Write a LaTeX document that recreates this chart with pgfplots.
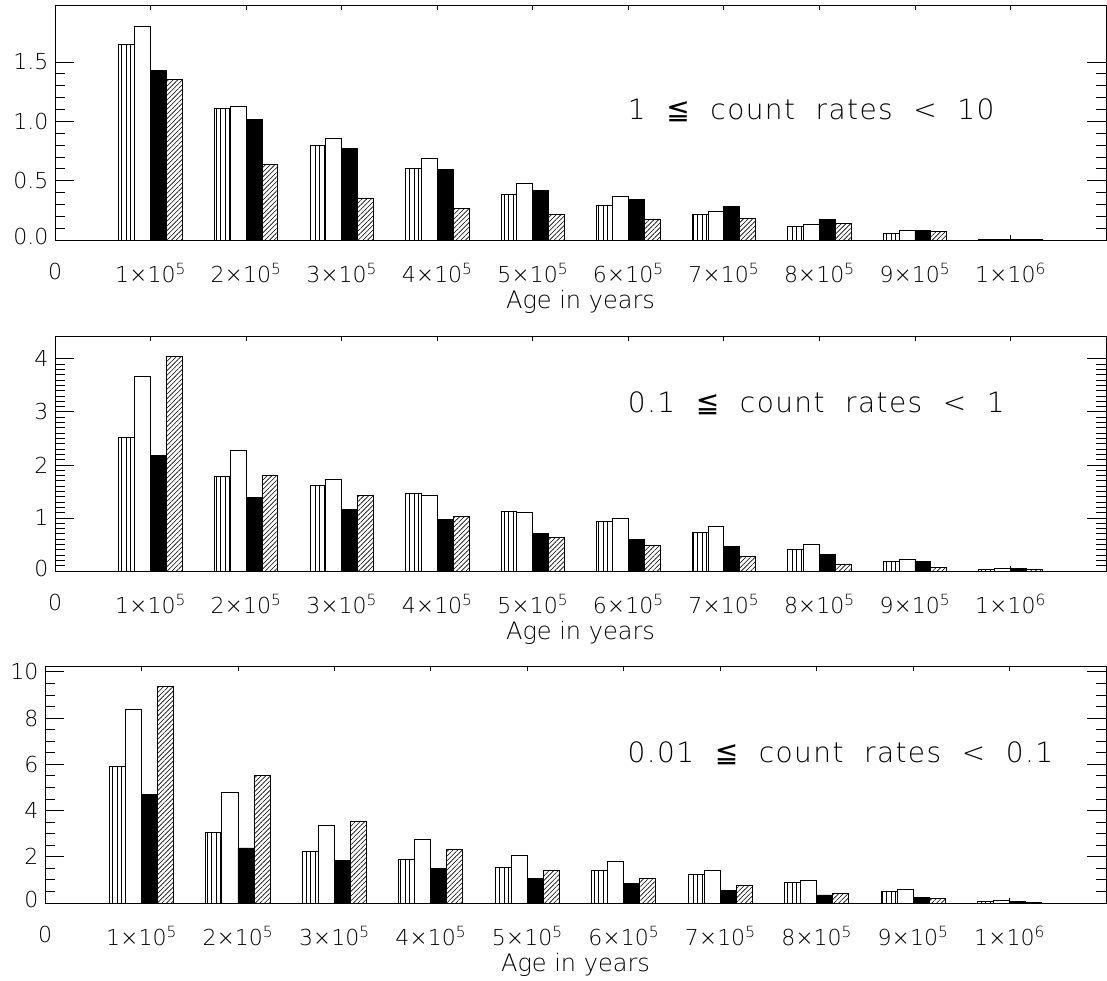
\documentclass[border=0pt]{standalone}
\usepackage{pgfplots}
\pgfplotsset{compat=1.18}
\usepackage{pgfplotstable}
\usetikzlibrary{patterns.meta}
\usepackage{fontspec}
\setmainfont{DejaVu Sans ExtraLight}
\newfontfamily\symfont{DejaVu Sans}
\newfontfamily\widefont[LetterSpace=5]{DejaVu Sans ExtraLight}

\pgfplotstableread{
x s w b h
1 1.65 1.80 1.425 1.355
2 1.11 1.125 1.015 0.64
3 0.80 0.86 0.775 0.354
4 0.60 0.685 0.597 0.264
5 0.38 0.478 0.416 0.216
6 0.295 0.365 0.34 0.177
7 0.215 0.24 0.284 0.183
8 0.115 0.132 0.174 0.14
9 0.053 0.081 0.079 0.073
10 0.008 0.008 0.006 0.005
}\toptab

\pgfplotstableread{
x s w b h
1 2.51 3.67 2.17 4.04
2 1.78 2.28 1.39 1.80
3 1.62 1.72 1.16 1.42
4 1.47 1.43 0.98 1.03
5 1.13 1.11 0.71 0.64
6 0.93 1.00 0.60 0.48
7 0.72 0.84 0.47 0.27
8 0.41 0.50 0.32 0.13
9 0.18 0.22 0.18 0.07
10 0.03 0.04 0.04 0.03
}\midtab

\pgfplotstableread{
x s w b h
1 5.89 8.36 4.69 9.36
2 3.05 4.77 2.38 5.52
3 2.24 3.35 1.86 3.55
4 1.89 2.74 1.50 2.32
5 1.53 2.08 1.05 1.43
6 1.40 1.79 0.84 1.08
7 1.23 1.40 0.53 0.78
8 0.90 0.97 0.35 0.43
9 0.49 0.58 0.23 0.20
10 0.06 0.10 0.06 0.02
}\bottab

\tikzset{ptext/.style={anchor=west, inner sep=0pt, font=\widefont\fontsize{28}{32}\selectfont}}

\pgfplotsset{
  panel/.style={
    scale only axis,
    xmin=0, xmax=11, ymin=0,
    axis line style={line width=0.8pt},
    xtick={0,...,10},
    xticklabels={0, 1×10\textsuperscript{5}, 2×10\textsuperscript{5}, 3×10\textsuperscript{5}, 4×10\textsuperscript{5}, 5×10\textsuperscript{5}, 6×10\textsuperscript{5}, 7×10\textsuperscript{5}, 8×10\textsuperscript{5}, 9×10\textsuperscript{5}, 1×10\textsuperscript{6}},
    tick align=inside,
    xtick pos=both, ytick pos=both,
    xticklabel pos=lower, yticklabel pos=left,
    major tick length=19pt, minor tick length=10pt,
    x tick style={/pgfplots/major tick length=5pt, line width=0.8pt, black},
    y tick style={line width=0.8pt, black},
    xticklabel style={font=\fontsize{22}{26}\selectfont, anchor=north, yshift=-20pt},
    yticklabel style={font=\fontsize{22}{26}\selectfont, anchor=east, xshift=-3pt},
    xlabel={Age in years},
    xlabel style={font=\fontsize{24}{28}\selectfont, at={(axis description cs:0.5,0)}, anchor=center, yshift=-62pt},
  },
  sbar/.style={ybar, bar width=0.166, bar shift=-0.249, draw=black, line width=0.8pt,
    pattern={Lines[angle=90,distance=4.5pt,line width=0.7pt]}},
  wbar/.style={ybar, bar width=0.166, bar shift=-0.083, draw=black, line width=0.8pt, fill=white},
  bbar/.style={ybar, bar width=0.166, bar shift=0.083, draw=black, line width=0.8pt, fill=black},
  hbar/.style={ybar, bar width=0.166, bar shift=0.249, draw=black, line width=0.8pt,
    pattern={Lines[angle=45,distance=3.3pt,line width=0.6pt]}},
}

\begin{document}
\begin{tikzpicture}
\useasboundingbox (0pt,0pt) rectangle (1107pt,-981pt);

\begin{axis}[panel, at={(55pt,-240pt)}, anchor=south west, width=1051pt, height=235pt,
  ymax=1.98, ytick={0,0.5,1,1.5}, minor y tick num=4,
  yticklabels={\raisebox{8pt}{0.0},0.5,1.0,1.5}]
\addplot[sbar] table[x=x,y=s]{\toptab};
\addplot[wbar] table[x=x,y=w]{\toptab};
\addplot[bbar] table[x=x,y=b]{\toptab};
\addplot[hbar] table[x=x,y=h]{\toptab};
\node[ptext] at (rel axis cs:0.545,0.553) {1\ \ {\symfont ≦}\ \ count\ \ rates\ \ <\ \ 10};
\end{axis}

\begin{axis}[panel, at={(55pt,-571pt)}, anchor=south west, width=1051pt, height=235pt,
  ymax=4.43, ytick={0,1,2,3,4}, minor y tick num=9,
  yticklabels={\raisebox{6pt}{0},1,2,3,4}]
\addplot[sbar] table[x=x,y=s]{\midtab};
\addplot[wbar] table[x=x,y=w]{\midtab};
\addplot[bbar] table[x=x,y=b]{\midtab};
\addplot[hbar] table[x=x,y=h]{\midtab};
\node[ptext] at (rel axis cs:0.545,0.715) {0.1\ \ {\symfont ≦}\ \ count\ \ rates\ \ <\ \ 1};
\end{axis}

\begin{axis}[panel, at={(45pt,-903pt)}, anchor=south west, width=1061pt, height=237pt,
  ymax=10.25, ytick={0,2,4,6,8,10}, minor y tick num=3,
  yticklabels={\raisebox{7pt}{0},2,4,6,8,10}]
\addplot[sbar] table[x=x,y=s]{\bottab};
\addplot[wbar] table[x=x,y=w]{\bottab};
\addplot[bbar] table[x=x,y=b]{\bottab};
\addplot[hbar] table[x=x,y=h]{\bottab};
\node[ptext] at (rel axis cs:0.549,0.63) {0.01\ \ {\symfont ≦}\ \ count\ \ rates\ \ <\ \ 0.1};
\end{axis}
\end{tikzpicture}
\end{document}
